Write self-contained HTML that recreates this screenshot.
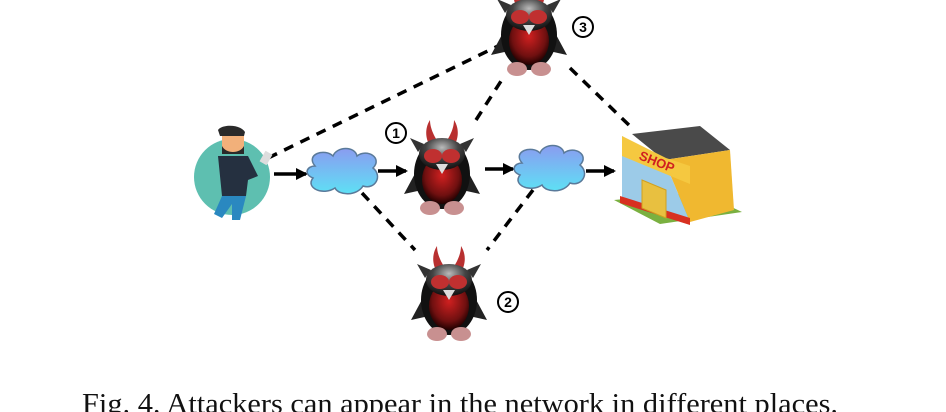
<!DOCTYPE html>
<html><head><meta charset="utf-8"><style>
html,body{margin:0;padding:0;background:#fff;width:946px;height:412px;overflow:hidden}
</style></head><body>
<svg width="946" height="412" viewBox="0 0 946 412" xmlns="http://www.w3.org/2000/svg">
<defs>
<linearGradient id="cl" x1="0" y1="0" x2="0" y2="1"><stop offset="0" stop-color="#8a9cf0"/><stop offset="1" stop-color="#5ee0f5"/></linearGradient>
<radialGradient id="bd" cx="0.5" cy="0.4" r="0.6"><stop offset="0" stop-color="#d02020"/><stop offset="0.7" stop-color="#701010"/><stop offset="1" stop-color="#200000"/></radialGradient>
<radialGradient id="hd" cx="0.5" cy="0.3" r="0.7"><stop offset="0" stop-color="#bbb"/><stop offset="0.5" stop-color="#444"/><stop offset="1" stop-color="#111"/></radialGradient>
<g id="cloud">
<path d="M-28,-8 C-38,-20 -18,-26 -10,-18 C-6,-28 12,-28 14,-18 C24,-26 40,-16 30,-6 C40,2 32,16 20,12 C14,22 -4,22 -8,14 C-20,22 -38,14 -30,4 C-40,0 -36,-8 -28,-8 Z" fill="url(#cl)" stroke="#5a7a9a" stroke-width="1.5"/>
</g>
<g id="peng">
<path d="M-12,-22 C-18,-32 -16,-42 -12,-48 C-12,-40 -8,-32 -4,-26Z" fill="#b83030"/>
<path d="M12,-22 C18,-32 16,-42 12,-48 C12,-40 8,-32 4,-26Z" fill="#b83030"/>
<path d="M-24,-16 L-32,-30 L-18,-24Z M24,-16 L32,-30 L18,-24Z" fill="#333"/>
<path d="M-24,0 L-38,26 L-20,22Z M24,0 L38,26 L20,22Z" fill="#222"/>
<ellipse cx="0" cy="6" rx="28" ry="35" fill="#111"/>
<ellipse cx="0" cy="12" rx="20" ry="24" fill="url(#bd)"/>
<ellipse cx="0" cy="-14" rx="23" ry="16" fill="url(#hd)"/>
<ellipse cx="-9" cy="-12" rx="9" ry="7" fill="#c03030"/>
<ellipse cx="9" cy="-12" rx="9" ry="7" fill="#c03030"/>
<path d="M-6,-4 L6,-4 L0,6Z" fill="#ddd"/>
<ellipse cx="-12" cy="40" rx="10" ry="7" fill="#c89090"/>
<ellipse cx="12" cy="40" rx="10" ry="7" fill="#c89090"/>
</g>
<marker id="ar" markerWidth="12" markerHeight="12" refX="10" refY="6" orient="auto" markerUnits="userSpaceOnUse"><path d="M0,0 L12,6 L0,12 Z" fill="#000"/></marker>
</defs>
<g stroke="#000" stroke-width="3.5" stroke-dasharray="10,8" fill="none">
<line x1="268" y1="158" x2="500" y2="45"/>
<line x1="476" y1="120" x2="503" y2="78"/>
<line x1="570" y1="68" x2="632" y2="128"/>
<line x1="362" y1="193" x2="415" y2="250"/>
<line x1="533" y1="190" x2="487" y2="250"/>
</g>
<g stroke="#000" stroke-width="3.5" marker-end="url(#ar)">
<line x1="274" y1="174" x2="306" y2="174"/>
<line x1="378" y1="171" x2="406" y2="171"/>
<line x1="485" y1="169" x2="513" y2="169"/>
<line x1="586" y1="171" x2="614" y2="171"/>
</g>
<!-- person -->
<circle cx="232" cy="177" r="38" fill="#5ebfb0"/>
<rect x="222" y="128" width="22" height="24" rx="6" fill="#f2b07a"/>
<path d="M218,130 C222,124 240,124 245,132 L244,136 L220,136Z" fill="#2a2a2a"/>
<path d="M222,146 C226,154 240,154 244,146 L244,154 L222,154Z" fill="#2a2a2a"/>
<path d="M218,156 L248,156 L258,176 L248,180 L246,196 L222,196Z" fill="#253040"/>
<path d="M222,196 L246,196 L240,220 L232,220 L232,204 L222,218 L214,214Z" fill="#2a88c0"/>
<rect x="262" y="152" width="8" height="12" fill="#ddd" transform="rotate(30 266 158)"/>
<!-- clouds -->
<use href="#cloud" x="343" y="174"/>
<use href="#cloud" x="550" y="171"/>
<!-- penguins -->
<use href="#peng" x="442" y="168"/>
<use href="#peng" x="529" y="29"/>
<use href="#peng" x="449" y="294"/>
<!-- labels -->
<g font-family="Liberation Sans, sans-serif" font-weight="bold" font-size="14" text-anchor="middle">
<circle cx="396" cy="133" r="10" fill="#fff" stroke="#000" stroke-width="2"/><text x="396" y="138">1</text>
<circle cx="583" cy="27" r="10" fill="#fff" stroke="#000" stroke-width="2"/><text x="583" y="32">3</text>
<circle cx="508" cy="302" r="10" fill="#fff" stroke="#000" stroke-width="2"/><text x="508" y="307">2</text>
</g>
<!-- shop -->
<path d="M614,200 L660,224 L742,212 L700,192Z" fill="#7ab040"/>
<path d="M632,134 L700,126 L730,150 L664,160Z" fill="#4a4a4a"/>
<path d="M664,160 L730,150 L734,210 L690,222 Z" fill="#f0b830"/>
<path d="M622,136 L664,160 L690,222 L622,200Z" fill="#9ccbe8"/>
<path d="M622,136 L666,158 L690,166 L690,184 L622,156Z" fill="#f5c840"/>
<path d="M620,196 L690,218 L690,225 L620,203Z" fill="#d83020"/>
<path d="M642,180 L666,190 L666,218 L642,208Z" fill="#e8c040" stroke="#d0a020"/>
<text x="656" y="166" font-family="Liberation Sans, sans-serif" font-weight="bold" font-size="13" fill="#d02020" transform="rotate(22 656 164)" text-anchor="middle">SHOP</text>
<!-- caption -->
<text x="82" y="413" font-family="Liberation Serif, serif" font-size="29" textLength="756" lengthAdjust="spacingAndGlyphs" fill="#111">Fig. 4.  Attackers can appear in the network in different places.</text>
</svg>
</body></html>
